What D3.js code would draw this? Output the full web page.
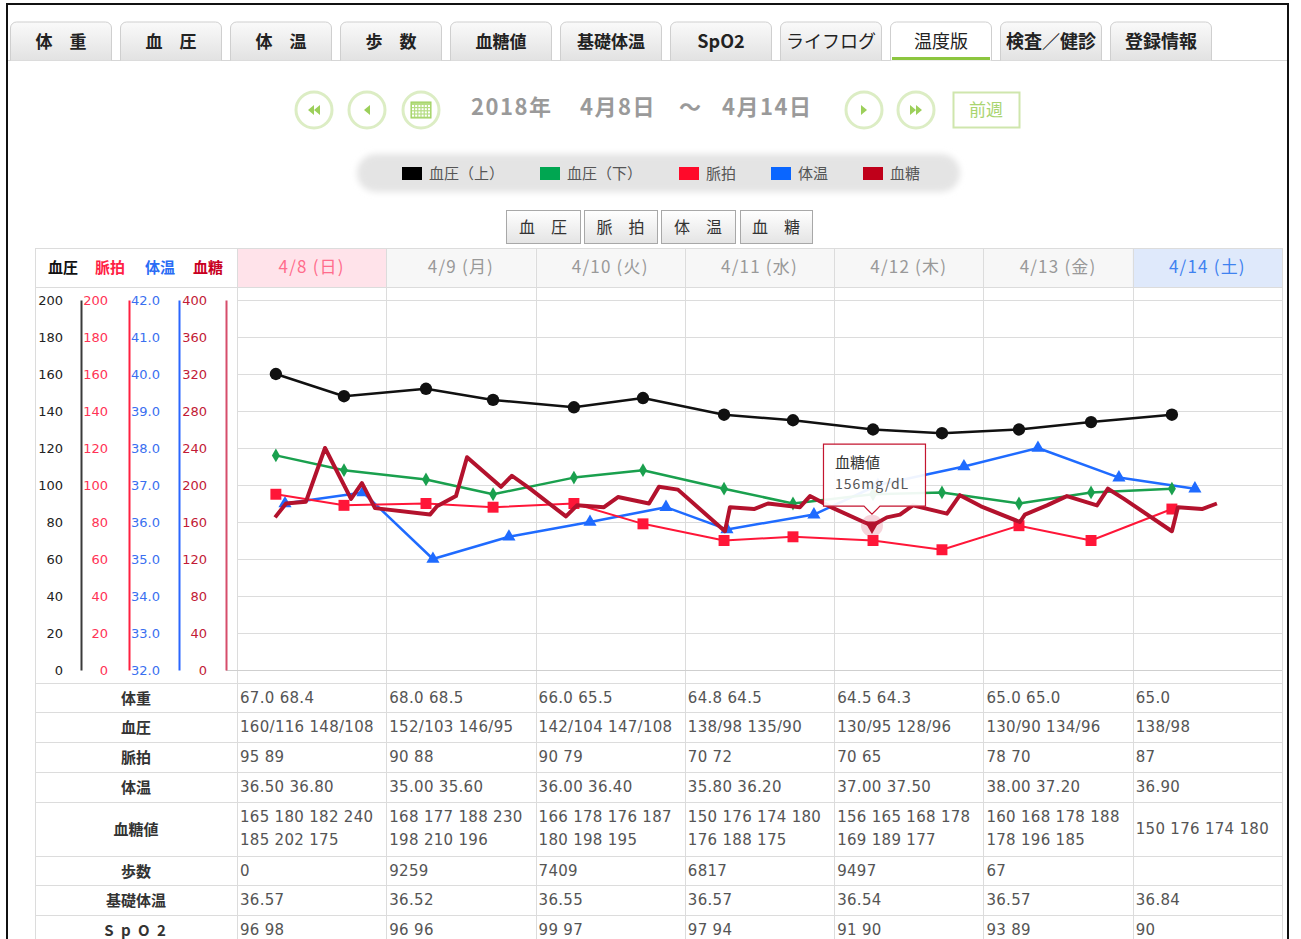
<!DOCTYPE html>
<html><head><meta charset="utf-8">
<script src="https://cdn.jsdelivr.net/npm/d3@7"></script>
<style>
html,body{margin:0;padding:0;background:#fff;}
svg{display:block;}
</style></head>
<body>
<div id="chart"></div>
<script>
// ---------------- DATA ----------------
const tabs = ["体　重","血　圧","体　温","歩　数","血糖値","基礎体温","SpO2","ライフログ","温度版","検査／健診","登録情報"];
const activeTab = "温度版";
const legendLabels = ["血圧（上）","血圧（下）","脈拍","体温","血糖"];
const buttonLabels = ["血　圧","脈　拍","体　温","血　糖"];
const axisTitles = ["血圧","脈拍","体温","血糖"];
const dayLabels = ["4/8 (日)","4/9 (月)","4/10 (火)","4/11 (水)","4/12 (木)","4/13 (金)","4/14 (土)"];
const dayStarts = ["2018-04-08 00:00","2018-04-09 00:00","2018-04-10 00:00","2018-04-11 00:00","2018-04-12 00:00","2018-04-13 00:00","2018-04-14 00:00","2018-04-15 00:00"];

const bpTimes = ["2018-04-08 06:15","2018-04-08 17:12","2018-04-09 06:23","2018-04-09 17:10","2018-04-10 06:10","2018-04-10 17:16","2018-04-11 06:18","2018-04-11 17:23","2018-04-12 06:15","2018-04-12 17:20","2018-04-13 05:43","2018-04-13 17:18","2018-04-14 06:18"];
const bpHigh = [160,148,152,146,142,147,138,135,130,128,130,134,138];
const bpLow  = [116,108,103,95,104,108,98,90,95,96,90,96,98];
const pulse  = [95,89,90,88,90,79,70,72,70,65,78,70,87];

const tempTimes = ["2018-04-08 07:43","2018-04-08 20:15","2018-04-09 07:30","2018-04-09 19:43","2018-04-10 08:45","2018-04-10 20:58","2018-04-11 06:46","2018-04-11 20:45","2018-04-12 07:02","2018-04-12 20:52","2018-04-13 08:46","2018-04-13 21:47","2018-04-14 10:00"];
const temps = [36.5,36.8,35.0,35.6,36.0,36.4,35.8,36.2,37.0,37.5,38.0,37.2,36.9];

const sugarTimes = [
 "2018-04-08 06:07","2018-04-08 07:53","2018-04-08 11:05","2018-04-08 14:09","2018-04-08 18:20","2018-04-08 20:05","2018-04-08 22:11",
 "2018-04-09 07:01","2018-04-09 08:09","2018-04-09 11:12","2018-04-09 12:59","2018-04-09 18:26","2018-04-09 20:12","2018-04-09 23:06",
 "2018-04-10 04:53","2018-04-10 06:40","2018-04-10 11:00","2018-04-10 13:15","2018-04-10 18:14","2018-04-10 19:50","2018-04-10 22:53",
 "2018-04-11 06:27","2018-04-11 07:15","2018-04-11 11:07","2018-04-11 13:22","2018-04-11 18:30","2018-04-11 20:07","2018-04-11 23:50",
 "2018-04-12 06:05","2018-04-12 08:29","2018-04-12 10:35","2018-04-12 12:40","2018-04-12 18:08","2018-04-12 20:13","2018-04-12 23:36",
 "2018-04-13 05:52","2018-04-13 06:40","2018-04-13 10:13","2018-04-13 13:25","2018-04-13 18:15","2018-04-13 20:01","2018-04-13 22:36",
 "2018-04-14 06:18","2018-04-14 07:16","2018-04-14 11:08","2018-04-14 13:32"];
const sugar = [165,180,182,240,185,202,175, 168,177,188,230,198,210,196, 166,178,176,187,180,198,195,
 150,176,174,180,176,188,175, 156,165,168,178,169,189,177, 160,168,178,188,178,196,185, 150,176,174,180];
const tooltipIndex = 28; // 4/12 first reading (156)
const tooltipTitle = "血糖値";
const tooltipUnit = "mg/dL";

const bpTicks = [0,20,40,60,80,100,120,140,160,180,200];
const pulseTicks = [0,20,40,60,80,100,120,140,160,180,200];
const tempTicks = [32,33,34,35,36,37,38,39,40,41,42];
const sugarTicks = [0,40,80,120,160,200,240,280,320,360,400];

const rowLabels = ["体重","血圧","脈拍","体温","血糖値","歩数","基礎体温","S p O 2"];
const rowWeight = ["67.0 68.4","68.0 68.5","66.0 65.5","64.8 64.5","64.5 64.3","65.0 65.0","65.0"];
const rowBP = ["160/116 148/108","152/103 146/95","142/104 147/108","138/98 135/90","130/95 128/96","130/90 134/96","138/98"];
const rowPulse = ["95 89","90 88","90 79","70 72","70 65","78 70","87"];
const rowTemp = ["36.50 36.80","35.00 35.60","36.00 36.40","35.80 36.20","37.00 37.50","38.00 37.20","36.90"];
const rowSugar1 = ["165 180 182 240","168 177 188 230","166 178 176 187","150 176 174 180","156 165 168 178","160 168 178 188","150 176 174 180"];
const rowSugar2 = ["185 202 175","198 210 196","180 198 195","176 188 175","169 189 177","178 196 185",""];
const rowSteps = ["0","9259","7409","6817","9497","67",""];
const rowBaseTemp = ["36.57","36.52","36.55","36.57","36.54","36.57","36.84"];
const rowSpO2 = ["96 98","96 96","99 97","97 94","91 90","93 89","90"];

// ---------------- DRAW ----------------
const W = 1301, H = 939;
const parse = d3.timeParse("%Y-%m-%d %H:%M");
const svg = d3.select("#chart").append("svg").attr("width", W).attr("height", H);
const defs = svg.append("defs");
const JP = "'Noto Sans CJK JP','Noto Sans',sans-serif";
const NUM = "'DejaVu Sans',Verdana,sans-serif";

const gTab = defs.append("linearGradient").attr("id","tabg").attr("x1",0).attr("y1",0).attr("x2",0).attr("y2",1);
gTab.append("stop").attr("offset","0%").attr("stop-color","#fafafa");
gTab.append("stop").attr("offset","100%").attr("stop-color","#e2e2e2");
const gBtn = defs.append("linearGradient").attr("id","btng").attr("x1",0).attr("y1",0).attr("x2",0).attr("y2",1);
gBtn.append("stop").attr("offset","0%").attr("stop-color","#ffffff");
gBtn.append("stop").attr("offset","100%").attr("stop-color","#e4e4e4");
const blur = defs.append("filter").attr("id","soft").attr("x","-10%").attr("y","-40%").attr("width","120%").attr("height","180%");
blur.append("feGaussianBlur").attr("stdDeviation",3);

// outer frame
svg.append("path").attr("d","M7,939V4H1288V939").attr("fill","none").attr("stroke","#111").attr("stroke-width",2);

// tabs
const tabG = svg.append("g");
tabG.append("line").attr("x1",8).attr("x2",1287).attr("y1",60.5).attr("y2",60.5).attr("stroke","#d6d6d6");
tabs.forEach((t,i)=>{
  const x = 10 + i*110, active = t===activeTab;
  tabG.append("path")
    .attr("d",`M${x+0.5},60.5V28a6,6 0 0 1 6,-6H${x+95.5}a6,6 0 0 1 6,6V60.5`)
    .attr("fill", active ? "#fff" : "url(#tabg)").attr("stroke","#cfcfcf");
  if(active) tabG.append("rect").attr("x",x+2).attr("y",57).attr("width",98).attr("height",3).attr("fill","#8cc63f");
  tabG.append("text").attr("x",x+51).attr("y",48).attr("text-anchor","middle")
    .attr("font-family",JP).attr("font-size", i<6?17:18).attr("font-weight", (i===7||i===8)?400:700)
    .attr("fill","#222").text(t);
});

// navigation
const nav = svg.append("g");
function circBtn(cx, kind){
  nav.append("circle").attr("cx",cx).attr("cy",110).attr("r",18).attr("fill","#fff").attr("stroke","#dcedc4").attr("stroke-width",3);
  const c = "#9ccf5a";
  const tri = (x,dir)=> dir<0 ? `M${x},110l6,-5v10z` : `M${x},110l-6,-5v10z`;
  if(kind==="ll"){ nav.append("path").attr("d",tri(cx-6,-1)+tri(cx,-1)).attr("fill",c); }
  if(kind==="l"){ nav.append("path").attr("d",tri(cx-3,-1)).attr("fill",c); }
  if(kind==="r"){ nav.append("path").attr("d",tri(cx+3,1)).attr("fill",c); }
  if(kind==="rr"){ nav.append("path").attr("d",tri(cx,1)+tri(cx+6,1)).attr("fill",c); }
  if(kind==="cal"){
    nav.append("rect").attr("x",cx-10).attr("y",102).attr("width",20).attr("height",16).attr("fill","#b6dd84").attr("stroke",c);
    for(let a=0;a<4;a++) for(let b=0;b<6;b++)
      nav.append("rect").attr("x",cx-9+b*3.2).attr("y",105+a*3.2).attr("width",2).attr("height",2).attr("fill","#fff");
  }
}
circBtn(314,"ll"); circBtn(367,"l"); circBtn(421,"cal"); circBtn(864,"r"); circBtn(916,"rr");
[["2018年",471],["4月8日",580],["〜",679],["4月14日",722]].forEach(([t,x])=>{
  nav.append("text").attr("x",x).attr("y",115).attr("font-family",JP).attr("font-size",22).attr("letter-spacing",1.5).attr("font-weight",700).attr("fill","#9a9a9a").text(t);
});
nav.append("rect").attr("x",953.5).attr("y",92.5).attr("width",66).attr("height",35).attr("fill","#fff").attr("stroke","#cfe6ad").attr("stroke-width",2);
nav.append("text").attr("x",986).attr("y",116).attr("text-anchor","middle").attr("font-family",JP).attr("font-size",17).attr("fill","#a9d46f").text("前週");

// legend
const leg = svg.append("g");
leg.append("rect").attr("x",357).attr("y",154).attr("width",603).attr("height",38).attr("rx",19).attr("fill","#e4e4e4").attr("filter","url(#soft)");
const seriesColors = ["#000000","#00a651","#ff0a2a","#0a66ff","#c0001a"];
const legX = [402,540,679,771,863];
legendLabels.forEach((t,i)=>{
  leg.append("rect").attr("x",legX[i]).attr("y",167).attr("width",20).attr("height",13).attr("fill",seriesColors[i]);
  leg.append("text").attr("x",legX[i]+27).attr("y",179).attr("font-family",JP).attr("font-size",15).attr("fill","#555").text(t);
});

// buttons
const btnX = [[506,74],[584,73],[661,74],[740,72]];
buttonLabels.forEach((t,i)=>{
  svg.append("rect").attr("x",btnX[i][0]+0.5).attr("y",210.5).attr("width",btnX[i][1]).attr("height",33).attr("fill","url(#btng)").attr("stroke","#a8a8a8");
  svg.append("text").attr("x",btnX[i][0]+btnX[i][1]/2).attr("y",233).attr("text-anchor","middle").attr("font-family",JP).attr("font-size",16).attr("fill","#333").text(t);
});

// scales
const L = 237, R = 1282, TOP = 300, BOT = 670;
const x = d3.scaleTime().domain([parse(dayStarts[0]), parse(dayStarts[7])]).range([L, R]);
const yBP = d3.scaleLinear().domain([0,200]).range([BOT, TOP]);
const yPulse = d3.scaleLinear().domain([0,200]).range([BOT, TOP]);
const yTemp = d3.scaleLinear().domain([32,42]).range([BOT, TOP]);
const ySugar = d3.scaleLinear().domain([0,400]).range([BOT, TOP]);

// header row
const hdr = svg.append("g");
const hdrBg = ["#ffe3ea","#f7f7f7","#f7f7f7","#f7f7f7","#f7f7f7","#f7f7f7","#dfe9fb"];
const hdrFg = ["#ff6d8c","#999","#999","#999","#999","#999","#3f82f0"];
dayLabels.forEach((d,i)=>{
  const x0 = x(parse(dayStarts[i])), x1 = x(parse(dayStarts[i+1]));
  hdr.append("rect").attr("x",x0).attr("y",249).attr("width",x1-x0).attr("height",38).attr("fill",hdrBg[i]);
  hdr.append("text").attr("x",(x0+x1)/2).attr("y",273).attr("text-anchor","middle").attr("font-family",JP).attr("font-size",17).attr("letter-spacing",1.2).attr("fill",hdrFg[i]).text(d);
});
const titleColors = ["#111","#ff1f45","#2a6cf5","#c8001e"];
const titleX = [48,95,145,193];
axisTitles.forEach((t,i)=>{
  hdr.append("text").attr("x",titleX[i]).attr("y",273).attr("font-family",JP).attr("font-size",15).attr("font-weight",700).attr("fill",titleColors[i]).text(t);
});

// grid
const grid = svg.append("g").attr("stroke","#dcdcdc").attr("stroke-width",1);
bpTicks.forEach(v=>{
  grid.append("line").attr("x1",L).attr("x2",R).attr("y1",Math.round(yBP(v))+0.5).attr("y2",Math.round(yBP(v))+0.5);
});
dayStarts.forEach((d,i)=>{
  const xx = Math.round(x(parse(d)))+0.5;
  grid.append("line").attr("x1",xx).attr("x2",xx).attr("y1",248).attr("y2",H);
});
grid.append("line").attr("x1",35.5).attr("x2",35.5).attr("y1",248).attr("y2",H);
grid.append("line").attr("x1",35).attr("x2",R).attr("y1",248.5).attr("y2",248.5);
grid.append("line").attr("x1",35).attr("x2",R).attr("y1",287.5).attr("y2",287.5);
grid.append("line").attr("x1",35).attr("x2",R).attr("y1",683.5).attr("y2",683.5);
svg.append("line").attr("x1",226).attr("x2",R).attr("y1",670.5).attr("y2",670.5).attr("stroke","#cfcfcf");

// axes
function makeAxis(scale, ticks, xpos, pad, fmt, lineColor, textColor, anchorStart){
  const g = svg.append("g").attr("transform",`translate(${xpos},0)`)
    .call(d3.axisLeft(scale).tickValues(ticks).tickSize(0).tickPadding(pad).tickFormat(fmt));
  g.select(".domain").attr("stroke",lineColor).attr("stroke-width",2);
  g.selectAll("text").attr("font-family",NUM).attr("font-size",13).attr("fill",textColor);
  if(anchorStart!==undefined) g.selectAll("text").attr("text-anchor","start").attr("x",anchorStart);
  return g;
}
makeAxis(yBP, bpTicks, 81, 18, d3.format("d"), "#3a3a3a", "#222");
makeAxis(yPulse, pulseTicks, 129, 21, d3.format("d"), "#ff2040", "#ff3355");
makeAxis(yTemp, tempTicks, 179, 0, d3.format(".1f"), "#2a66ff", "#3a6ff0", -48);
makeAxis(ySugar, sugarTicks, 226, 19, d3.format("d"), "#d64d6b", "#c21a36");

// series
const plot = svg.append("g");
const bpT = bpTimes.map(parse), tT = tempTimes.map(parse), sT = sugarTimes.map(parse);
function drawLine(times, vals, y, color, w){
  plot.append("path").datum(vals.map((v,i)=>[x(times[i]), y(v)]))
    .attr("d", d3.line()).attr("fill","none").attr("stroke",color).attr("stroke-width",w).attr("stroke-linejoin","round");
}
function drawSym(times, vals, y, color, type, size, rot){
  plot.selectAll(null).data(vals).join("path")
    .attr("transform",(v,i)=>`translate(${x(times[i])},${y(v)}) rotate(${rot||0})`)
    .attr("d", d3.symbol().type(type).size(size)).attr("fill",color);
}
const cBlue="#1f6bff", cRed="#ff1638", cGreen="#1aa04e", cBlack="#111", cSugar="#b3122d";
drawLine(tT, temps, yTemp, cBlue, 2.5);
drawSym(tT, temps, yTemp, cBlue, d3.symbolTriangle, 75);
drawLine(bpT, pulse, yPulse, cRed, 2);
drawSym(bpT, pulse, yPulse, cRed, d3.symbolSquare, 120);
drawLine(bpT, bpLow, yBP, cGreen, 2.5);
drawSym(bpT, bpLow, yBP, cGreen, d3.symbolDiamond, 55);
drawLine(bpT, bpHigh, yBP, cBlack, 2.5);
drawSym(bpT, bpHigh, yBP, cBlack, d3.symbolCircle, 120);
drawLine(sT, sugar, ySugar, cSugar, 4);

// hovered point + tooltip
const hx = x(sT[tooltipIndex]), hy = ySugar(sugar[tooltipIndex]);
plot.append("circle").attr("cx",hx).attr("cy",hy).attr("r",11).attr("fill","rgba(215,60,90,0.22)");
plot.append("path").attr("transform",`translate(${hx},${hy}) rotate(180)`).attr("d",d3.symbol().type(d3.symbolTriangle).size(90)).attr("fill",cSugar);
const tip = svg.append("g");
const tw = 102, th = 62, tx = hx - 49, ty = hy - 82;
tip.append("path")
  .attr("d",`M${tx+0.5},${ty+0.5}h${tw}v${th}H${hx+8}l-8,8l-8,-8H${tx+0.5}z`)
  .attr("fill","rgba(255,255,255,0.93)").attr("stroke","#c4152f").attr("stroke-width",1.2);
tip.append("text").attr("x",tx+12).attr("y",ty+24).attr("font-family",JP).attr("font-size",15).attr("fill","#333").text(tooltipTitle);
tip.append("text").attr("x",tx+12).attr("y",ty+45).attr("font-family",JP).attr("font-size",14).attr("letter-spacing",1).attr("fill","#555").text(sugar[tooltipIndex]+tooltipUnit);

// table
const tbl = svg.append("g");
const rowY = [683,712,742,772,802,856,885,915,945];
rowY.forEach(y=>tbl.append("line").attr("x1",35).attr("x2",R).attr("y1",y+0.5).attr("y2",y+0.5).attr("stroke","#dcdcdc"));
rowLabels.forEach((t,i)=>{
  tbl.append("text").attr("x",136).attr("y",(rowY[i]+rowY[i+1])/2+6).attr("text-anchor","middle")
    .attr("font-family",JP).attr("font-size",15).attr("font-weight",700).attr("fill","#333")
    .attr("letter-spacing", i===7?2:0).text(t);
});
function cellText(xx, yy, t){
  tbl.append("text").attr("x",xx).attr("y",yy).attr("font-family",NUM).attr("font-size",15).attr("letter-spacing",0.3).attr("fill","#555").text(t);
}
const singleRows = [[0,rowWeight],[1,rowBP],[2,rowPulse],[3,rowTemp],[5,rowSteps],[6,rowBaseTemp],[7,rowSpO2]];
singleRows.forEach(([ri,arr])=>{
  arr.forEach((t,d)=> cellText(x(parse(dayStarts[d]))+3, (rowY[ri]+rowY[ri+1])/2+5, t));
});
rowSugar1.forEach((t,d)=>{
  const x0 = x(parse(dayStarts[d]))+3;
  if(rowSugar2[d]){ cellText(x0, 822, t); cellText(x0, 845, rowSugar2[d]); }
  else cellText(x0, 834, t);
});
</script>
</body></html>
